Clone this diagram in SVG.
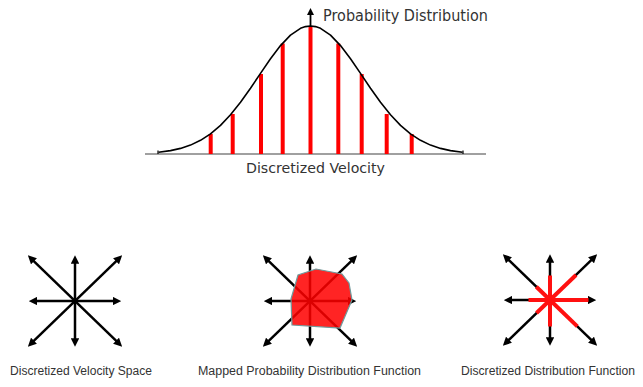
<svg xmlns="http://www.w3.org/2000/svg" xmlns:xlink="http://www.w3.org/1999/xlink" width="643" height="387" viewBox="0 0 643 387">
  <style>
    .lbl { font-family: "DejaVu Sans", Verdana, sans-serif; fill: #333; }
    .cap { font-family: "Liberation Sans", Arial, sans-serif; font-size: 12px; fill: #333; }
    .arr { stroke: #000; stroke-width: 2.5; fill: none; marker-start: url(#ah); marker-end: url(#ah); }
    .bar { stroke: #ff0000; stroke-width: 4; }
    .seg { stroke: #ff1010; stroke-width: 4; stroke-linecap: butt; }
  </style>
  <defs>
    <marker id="ah" viewBox="0 0 10 10" refX="5" refY="5" markerWidth="8.5" markerHeight="8.5" markerUnits="userSpaceOnUse" orient="auto-start-reverse">
      <path d="M0,0 L10,5 L0,10 z" fill="#000"/>
    </marker>
    <marker id="ahv" viewBox="0 0 10 10" refX="5" refY="5" markerWidth="7" markerHeight="7" markerUnits="userSpaceOnUse" orient="auto">
      <path d="M0,0 L10,5 L0,10 z" fill="#000"/>
    </marker>
    <g id="star">
      <line class="arr" x1="0" y1="-41.5" x2="0" y2="41.5"/>
      <line class="arr" x1="-42" y1="0" x2="42" y2="0"/>
      <line class="arr" x1="-44.1" y1="-42.7" x2="44.1" y2="42.7"/>
      <line class="arr" x1="44.1" y1="-42.7" x2="-44.1" y2="42.7"/>
    </g>
  </defs>
  <rect width="643" height="387" fill="#fff"/>

  <g id="chart">
    <line x1="145" y1="154" x2="486" y2="154" stroke="#a0a0a0" stroke-width="2"/>
    <line x1="158" y1="150.5" x2="158" y2="154" stroke="#000" stroke-width="1.2"/>
    <line x1="463" y1="150.5" x2="463" y2="154" stroke="#000" stroke-width="1.2"/>
    <line x1="310.5" y1="154" x2="310.5" y2="11.5" stroke="#000" stroke-width="1.8" marker-end="url(#ahv)"/>
    <g id="bars">
      <line class="bar" x1="210.7" y1="154" x2="210.7" y2="134"/>
      <line class="bar" x1="232.7" y1="154" x2="232.7" y2="114"/>
      <line class="bar" x1="261" y1="154" x2="261" y2="74"/>
      <line class="bar" x1="282.7" y1="154" x2="282.7" y2="43.5"/>
      <line class="bar" x1="310.5" y1="154" x2="310.5" y2="26"/>
      <line class="bar" x1="338.3" y1="154" x2="338.3" y2="43.5"/>
      <line class="bar" x1="361.7" y1="154" x2="361.7" y2="74"/>
      <line class="bar" x1="386.7" y1="154" x2="386.7" y2="114"/>
      <line class="bar" x1="411.7" y1="154" x2="411.7" y2="134"/>
    </g>
    <polyline fill="none" stroke="#000" stroke-width="1.6" stroke-linejoin="round"
      points="158.5,152.3 170.5,150.6 180.5,148.4 190.5,145.1 200.5,140.3 210.5,133.9 220.5,125.4 230.5,114.8 240.5,102.3 250.5,88.2 260.5,73.4 270.5,58.8 280.5,45.6 290.5,35.1 300.5,28.3 305.5,26.6 310.5,26 315.5,26.6 320.5,28.3 330.5,35.1 340.5,45.6 350.5,58.8 360.5,73.4 370.5,88.2 380.5,102.3 390.5,114.8 400.5,125.4 410.5,133.9 420.5,140.3 430.5,145.1 440.5,148.4 450.5,150.6 462.5,152.3"/>
    <text class="lbl" x="323" y="20.5" font-size="15" textLength="165" lengthAdjust="spacingAndGlyphs">Probability Distribution</text>
    <text class="lbl" x="246" y="173" font-size="14.5" textLength="139" lengthAdjust="spacingAndGlyphs">Discretized Velocity</text>
  </g>

  <g id="velocity-space">
    <use xlink:href="#star" href="#star" transform="translate(75,301)"/>
    <text class="cap" x="10" y="375" textLength="142" lengthAdjust="spacingAndGlyphs">Discretized Velocity Space</text>
  </g>

  <g id="mapped-pdf">
    <use xlink:href="#star" href="#star" transform="translate(310,301)"/>
    <polygon points="291,299 298,275 316,269 342,274 349,283 352,300 340,328 292,325" fill="#ff0000" fill-opacity="0.86" stroke="#6f9a9c" stroke-width="1.2"/>
    <text class="cap" x="198" y="375" textLength="223" lengthAdjust="spacingAndGlyphs">Mapped Probability Distribution Function</text>
  </g>

  <g id="discretized-df">
    <use xlink:href="#star" href="#star" transform="translate(550,300)"/>
    <g transform="translate(550,300)">
      <line class="seg" x1="0" y1="0" x2="0" y2="-24.5"/>
      <line class="seg" x1="0" y1="0" x2="0" y2="26.5"/>
      <line class="seg" x1="0" y1="0" x2="-21.5" y2="0"/>
      <line class="seg" x1="0" y1="0" x2="38.5" y2="0"/>
      <line class="seg" x1="0" y1="0" x2="26" y2="-25"/>
      <line class="seg" x1="0" y1="0" x2="-13.7" y2="-13.2"/>
      <line class="seg" x1="0" y1="0" x2="-13.5" y2="13"/>
      <line class="seg" x1="0" y1="0" x2="27.3" y2="26.4"/>
    </g>
    <text class="cap" x="461" y="375" textLength="174" lengthAdjust="spacingAndGlyphs">Discretized Distribution Function</text>
  </g>
</svg>
